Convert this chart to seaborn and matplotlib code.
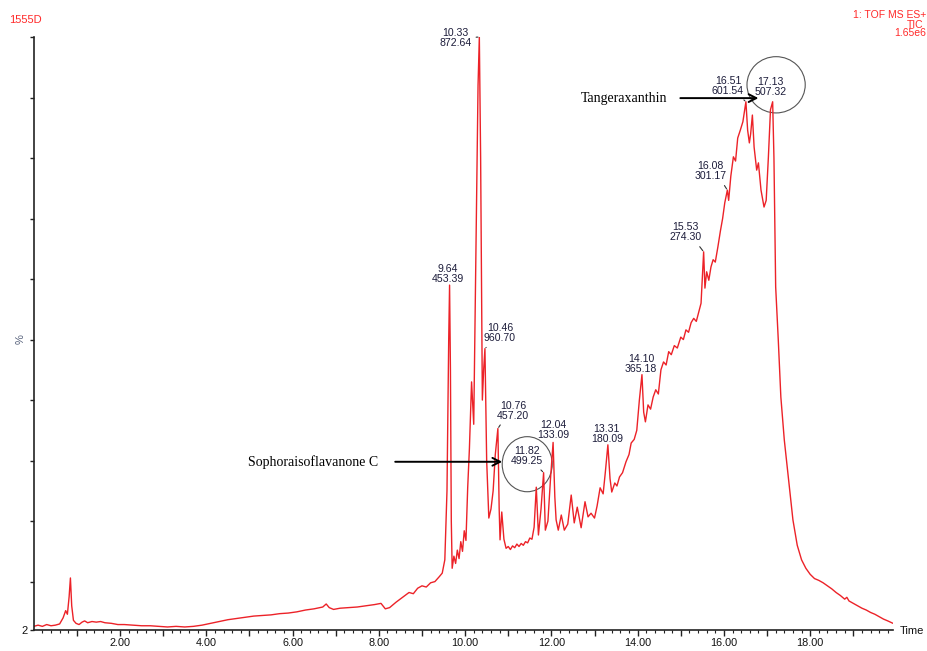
import numpy as np
import pandas as pd
import matplotlib
matplotlib.use("Agg")
import matplotlib.pyplot as plt
from matplotlib.patches import Ellipse
import seaborn as sns

# Total ion chromatogram: retention time (min) and relative intensity (%)
rt_min = [
    0.00, 0.10, 0.20, 0.30, 0.40, 0.50, 0.60, 0.68, 0.74, 0.78, 0.82, 0.85, 0.88, 0.92, 0.98,
    1.05, 1.12, 1.18, 1.25, 1.35, 1.45, 1.55, 1.65, 1.80, 1.95, 2.10, 2.30, 2.50, 2.70, 2.90,
    3.10, 3.30, 3.50, 3.70, 3.90, 4.10, 4.30, 4.50, 4.70, 4.90, 5.10, 5.30, 5.50, 5.70, 5.90,
    6.10, 6.30, 6.50, 6.70, 6.78, 6.85, 6.95, 7.10, 7.30, 7.50, 7.70, 7.90, 8.05, 8.15, 8.25,
    8.40, 8.55, 8.70, 8.80, 8.90, 9.00, 9.10, 9.20, 9.30, 9.40, 9.47, 9.53, 9.58, 9.62, 9.64,
    9.66, 9.68, 9.70, 9.74, 9.78, 9.82, 9.86, 9.90, 9.94, 9.98, 10.02, 10.06, 10.10, 10.15, 10.20,
    10.26, 10.30, 10.33, 10.36, 10.40, 10.43, 10.46, 10.50, 10.55, 10.60, 10.65, 10.70, 10.76, 10.79, 10.81,
    10.85, 10.90, 10.95, 11.00, 11.05, 11.10, 11.15, 11.20, 11.25, 11.30, 11.35, 11.40, 11.45, 11.50, 11.55,
    11.60, 11.65, 11.70, 11.76, 11.82, 11.86, 11.92, 11.98, 12.04, 12.08, 12.11, 12.16, 12.23, 12.30, 12.38,
    12.46, 12.53, 12.60, 12.69, 12.78, 12.85, 12.92, 13.00, 13.06, 13.13, 13.20, 13.25, 13.31, 13.36, 13.40,
    13.47, 13.52, 13.58, 13.65, 13.73, 13.80, 13.85, 13.92, 13.98, 14.04, 14.10, 14.14, 14.18, 14.24, 14.30,
    14.36, 14.42, 14.48, 14.54, 14.60, 14.66, 14.72, 14.78, 14.85, 14.92, 15.00, 15.06, 15.12, 15.18, 15.24,
    15.30, 15.36, 15.42, 15.47, 15.53, 15.56, 15.60, 15.65, 15.70, 15.75, 15.80, 15.86, 15.92, 15.97, 16.02,
    16.08, 16.11, 16.16, 16.22, 16.27, 16.32, 16.38, 16.44, 16.51, 16.55, 16.59, 16.62, 16.66, 16.70, 16.76,
    16.80, 16.86, 16.93, 16.98, 17.03, 17.08, 17.13, 17.16, 17.20, 17.26, 17.32, 17.40, 17.50, 17.60, 17.70,
    17.80, 17.90, 18.00, 18.10, 18.20, 18.30, 18.40, 18.50, 18.60, 18.70, 18.80, 18.85, 18.90, 19.00, 19.10,
    19.20, 19.30, 19.40, 19.50, 19.60, 19.70, 19.80, 19.92,
]
tic_pct = [
    2.6, 2.8, 2.6, 2.9, 2.7, 2.8, 3.0, 4.0, 5.2, 4.6, 7.5, 10.6, 6.0, 3.6, 3.1,
    2.9, 3.3, 3.5, 3.2, 3.4, 3.3, 3.4, 3.2, 3.1, 2.9, 2.9, 2.8, 2.7, 2.7, 2.6,
    2.5, 2.6, 2.5, 2.6, 2.8, 3.1, 3.4, 3.7, 3.9, 4.1, 4.3, 4.4, 4.5, 4.7, 4.8,
    5.0, 5.3, 5.5, 5.8, 6.3, 5.7, 5.4, 5.6, 5.7, 5.8, 6.0, 6.2, 6.4, 5.5, 5.7,
    6.6, 7.4, 8.2, 8.0, 8.9, 9.3, 9.1, 9.8, 10.0, 10.8, 11.4, 13.6, 25.0, 50.0, 59.0,
    45.0, 20.0, 12.2, 14.2, 13.0, 15.2, 13.8, 16.6, 15.0, 18.4, 16.8, 25.5, 32.0, 43.0, 36.0,
    70.0, 92.0, 100.0, 80.0, 40.0, 45.0, 48.5, 30.0, 20.5, 22.0, 25.0, 31.0, 35.3, 22.0, 16.9,
    21.5, 17.0, 15.5, 15.8, 15.3, 15.9, 15.6, 16.2, 15.8, 16.3, 16.0, 16.6, 16.4, 17.2, 17.0,
    19.0, 25.6, 17.7, 22.0, 28.0, 18.5, 20.0, 27.0, 33.0, 24.0, 20.2, 18.5, 21.0, 18.5, 19.5,
    24.3, 19.7, 22.3, 18.9, 23.2, 20.7, 21.3, 20.5, 22.5, 25.5, 24.5, 28.0, 32.6, 27.0, 24.8,
    26.3, 25.8, 27.3, 28.0, 29.8, 31.0, 32.9, 33.5, 35.0, 40.0, 44.2, 38.0, 36.4, 39.2, 38.5,
    40.5, 41.7, 41.0, 45.0, 46.3, 45.8, 48.0, 47.5, 49.0, 48.6, 50.4, 50.0, 51.6, 51.2, 52.8,
    53.5, 53.0, 54.6, 56.0, 64.5, 58.5, 61.2, 59.8, 62.0, 63.2, 62.8, 65.3, 68.0, 70.0, 72.6,
    74.7, 73.0, 77.0, 80.2, 79.5, 83.3, 84.6, 86.0, 89.3, 84.6, 82.5, 84.0, 87.1, 81.8, 78.0,
    79.2, 74.7, 71.9, 73.0, 80.0, 88.0, 89.3, 80.0, 58.7, 50.0, 40.5, 33.4, 26.8, 20.2, 16.0,
    13.6, 12.2, 11.2, 10.5, 10.2, 9.8, 9.3, 8.8, 8.2, 7.7, 7.1, 7.4, 6.8, 6.4, 6.0,
    5.6, 5.3, 4.9, 4.6, 4.2, 3.8, 3.5, 3.1,
]

# Labelled peaks: retention time and base-peak m/z
peak_rt = [9.64, 10.33, 10.46, 10.76, 11.82, 12.04, 13.31, 14.10, 15.53, 16.08, 16.51, 17.13]
peak_mz = ["453.39", "872.64", "960.70", "457.20", "499.25", "133.09",
           "180.09", "365.18", "274.30", "301.17", "601.54", "507.32"]

x_major_ticks = list(range(1, 20))
y_ticks = [2, 10, 20, 30, 40, 50, 60, 70, 80, 90, 100]
y_ticklabels = ["2", "", "", "", "", "", "", "", "", "", ""]

RED = "#ec2228"
INK = "#1c1c3a"

sns.set_style("ticks")
plt.rcParams["font.family"] = ["Liberation Sans", "DejaVu Sans"]

df = pd.DataFrame({"rt": rt_min, "tic": tic_pct})

fig = plt.figure(figsize=(9.27, 6.51), dpi=100)
W, H = 927.0, 651.0
ax = fig.add_axes([33.75 / W, 21 / H, 859.25 / W, 593 / H])

sns.lineplot(data=df, x="rt", y="tic", ax=ax, color=RED, linewidth=1.0,
             estimator=None, sort=False)

ax.set_xlim(0, 19.92)
ax.set_ylim(2, 100)

for side in ("top", "right"):
    ax.spines[side].set_visible(False)
for side in ("left", "bottom"):
    ax.spines[side].set_color("#222222")
    ax.spines[side].set_linewidth(1.2)

ax.set_xticks(x_major_ticks)
ax.set_xticklabels([f"{t:.2f}" if t % 2 == 0 else "" for t in x_major_ticks])
ax.set_xticks(np.arange(0.2, 19.9, 0.2), minor=True)
ax.tick_params(axis="x", which="major", bottom=True, direction="out", length=4.5, width=1.0,
               color="#222222", labelsize=7.8, pad=1.5, labelcolor="#111111")
ax.tick_params(axis="x", which="minor", bottom=True, direction="out", length=2.5, width=0.8,
               color="#222222")
ax.set_yticks(y_ticks)
ax.set_yticklabels(y_ticklabels)
ax.tick_params(axis="y", which="major", left=True, direction="out", length=3, width=1.0,
               color="#222222", labelsize=8, pad=1.5, labelcolor="#111111")
ax.tick_params(axis="y", which="minor", left=False)

ax.set_xlabel("")
ax.set_ylabel("%", fontsize=8, color="#55607a", labelpad=0)
ax.yaxis.set_label_coords(-0.009, (50 - 2) / 98)

# Peak annotations (retention time over m/z)
lookup = dict(zip(rt_min, tic_pct))
label_offsets = {
    9.64: ((-1.5, 11.5), None),
    10.33: ((-24, -0.5), (1.0, 0.5)),
    10.46: ((15, 15.5), (0.2, 0.0)),
    10.76: ((15, 18), (0.2, 0.0)),
    11.82: ((-16.5, 17), (0.8, 0.0)),
    12.04: ((0, 12.5), None),
    13.31: ((-1, 11), None),
    14.10: ((-1, 11), None),
    15.53: ((-18.5, 19.5), (0.85, 0.0)),
    16.08: ((-17, 19), (0.85, 0.0)),
    16.51: ((-18, 16), (0.85, 0.0)),
    17.13: ((-2.5, 14.5), None),
}
for rt, mz in zip(peak_rt, peak_mz):
    (dx, dy), rel = label_offsets[rt]
    props = None
    if rel is not None:
        props = dict(arrowstyle="-", color="#333333", lw=0.8, relpos=rel,
                     shrinkA=1, shrinkB=1)
    ax.annotate(f"{rt:.2f}\n{mz}", xy=(rt, lookup[rt]), xytext=(dx, dy),
                textcoords="offset pixels", ha="center", va="center",
                fontsize=7.6, color=INK, linespacing=1.0, arrowprops=props,
                annotation_clip=False)

# Circled identifications
ax.add_patch(Ellipse((11.44, 29.4), 1.16, 9.1, fill=False, edgecolor="#555555", lw=0.8))
ax.add_patch(Ellipse((17.21, 92.1), 1.35, 9.3, angle=0, fill=False,
                     edgecolor="#555555", lw=0.8, clip_on=False))

arrow_kw = dict(arrowstyle="->,head_length=0.55,head_width=0.28", color="black", lw=1.4,
                shrinkA=0, shrinkB=0)
ax.annotate("", xy=(10.86, 29.8), xytext=(8.38, 29.8), arrowprops=arrow_kw)
ax.text(7.98, 29.8, "Sophoraisoflavanone C", family=["Liberation Serif", "DejaVu Serif"],
        fontsize=10, ha="right", va="center", color="black")
ax.annotate("", xy=(16.80, 89.9), xytext=(14.99, 89.9), arrowprops=arrow_kw,
            annotation_clip=False)
ax.text(14.69, 89.9, "Tangeraxanthin", family=["Liberation Serif", "DejaVu Serif"],
        fontsize=10, ha="right", va="center", color="black")

# Instrument header and axis caption
HDR = "#ff2a2a"
fig.text(9 / W, 1 - 20 / H, "1555D", color=HDR, fontsize=8, ha="left", va="center")
fig.text(926 / W, 1 - 15.5 / H, "1: TOF MS ES+", color=HDR, fontsize=7.5, ha="right", va="center")
fig.text(923 / W, 1 - 24.5 / H, "TIC", color=HDR, fontsize=7.5, ha="right", va="center")
fig.text(926 / W, 1 - 33.5 / H, "1.65e6", color=HDR, fontsize=7.5, ha="right", va="center")
fig.text(900 / W, 1 - 631 / H, "Time", color="#111111", fontsize=8, ha="left", va="center")

fig.savefig("out.png", dpi=100, facecolor="white")
